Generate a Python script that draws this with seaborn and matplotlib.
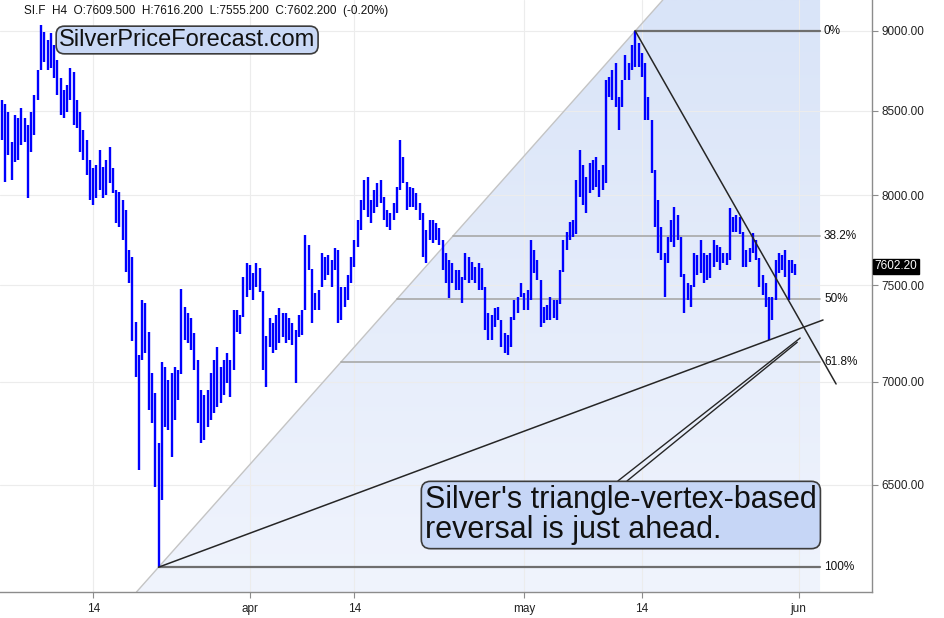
import numpy as np
import pandas as pd
import matplotlib
matplotlib.use("Agg")
import matplotlib.pyplot as plt
import matplotlib.transforms as mtransforms
import seaborn as sns
from matplotlib.patches import Polygon
from matplotlib.colors import LinearSegmentedColormap
from matplotlib.ticker import FixedLocator, NullLocator, FixedFormatter

sns.set_theme(style="white")
plt.rcParams['font.family'] = ['Liberation Sans', 'DejaVu Sans']

# ---- data: SI.F, 4 bars per trading day from 2020-03-05 ----
start_day = '2020-03-05'
holidays = ['2020-04-10']
bars_per_day = 4

high = [8566, 8541, 8493, 8312, 8475, 8457, 8517, 8457, 8414, 8493,
        8597, 8752, 9037, 8994, 8942, 8987, 8910, 8815, 8702, 8628,
        8659, 8765, 8740, 8566, 8493, 8384, 8324, 8206, 8159, 8176,
        8265, 8165, 8206, 8283, 8159, 8031, 8020, 7974, 7917, 7693,
        7654, 7306, 7134, 7422, 7406, 7254, 7043, 6943, 6699, 7099,
        7073, 7008, 7043, 7073, 7058, 7481, 7385, 7353, 7327, 7248,
        7109, 6958, 6933, 6958, 7043, 7109, 7175, 7073, 7109, 7145,
        7109, 7369, 7369, 7343, 7545, 7621, 7610, 7567, 7621, 7594,
        7470, 7233, 7327, 7301, 7343, 7380, 7353, 7353, 7327, 7301,
        7264, 7343, 7369, 7776, 7720, 7590, 7459, 7475, 7676, 7654,
        7665, 7638, 7704, 7693, 7491, 7491, 7556, 7654, 7748, 7860,
        7974, 8089, 8107, 7974, 8031, 8072, 8089, 7991, 7917, 7900,
        7957, 8049, 8324, 8224, 8077, 8049, 8043, 8014, 7957, 7900,
        7804, 7860, 7860, 7843, 7815, 7748, 7676, 7638, 7621, 7583,
        7583, 7545, 7676, 7654, 7627, 7599, 7621, 7594, 7491, 7353,
        7343, 7380, 7385, 7316, 7248, 7238, 7332, 7422, 7437, 7513,
        7459, 7475, 7748, 7693, 7638, 7529, 7385, 7395, 7437, 7422,
        7422, 7583, 7748, 7793, 7849, 7860, 8089, 8265, 8176, 8107,
        8188, 8206, 8224, 8147, 8176, 8690, 8709, 8752, 8796, 8585,
        8690, 8847, 8796, 8910, 9000, 8923, 8860, 8796, 8585, 8444,
        8147, 7974, 7821, 7676, 7765, 7860, 7934, 7889, 7765, 7560,
        7513, 7502, 7676, 7665, 7748, 7676, 7665, 7676, 7748, 7720,
        7709, 7676, 7676, 7929, 7877, 7889, 7877, 7790, 7693, 7704,
        7787, 7748, 7650, 7556, 7513, 7437, 7437, 7638, 7676, 7665,
        7693, 7638, 7638, 7616.2]

low = [8324, 8077, 8236, 8089, 8195, 8206, 8294, 8312, 7985, 8253,
       8354, 8566, 8752, 8802, 8752, 8765, 8702, 8597, 8475, 8457,
       8493, 8566, 8414, 8396, 8253, 8206, 8118, 7974, 7946, 7985,
       8031, 7985, 8002, 8072, 8014, 7843, 7821, 7748, 7572, 7513,
       7206, 7024, 6570, 7109, 7145, 6859, 6795, 6490, 6128, 6430,
       6776, 6761, 6632, 6810, 6908, 7040, 7212, 7196, 7160, 7058,
       6795, 6699, 6713, 6776, 6810, 6845, 6874, 6894, 6933, 6993,
       6923, 7058, 7254, 7244, 7332, 7437, 7475, 7422, 7491, 7465,
       7058, 6973, 7175, 7145, 7160, 7196, 7228, 7196, 7212, 7186,
       6993, 7228, 7238, 7369, 7583, 7301, 7369, 7369, 7491, 7529,
       7556, 7491, 7583, 7301, 7316, 7385, 7422, 7513, 7599, 7709,
       7804, 7917, 7877, 7843, 7900, 7934, 7957, 7860, 7821, 7804,
       7860, 7900, 8031, 8072, 7917, 7934, 7934, 7917, 7860, 7654,
       7621, 7748, 7731, 7748, 7720, 7583, 7513, 7433, 7513, 7475,
       7475, 7406, 7529, 7513, 7529, 7513, 7475, 7475, 7264, 7212,
       7212, 7280, 7316, 7175, 7145, 7134, 7175, 7316, 7353, 7437,
       7369, 7369, 7422, 7567, 7529, 7280, 7301, 7316, 7316, 7327,
       7316, 7400, 7570, 7693, 7748, 7765, 7780, 7991, 7946, 7900,
       8014, 8031, 8049, 7991, 8031, 8072, 8585, 8566, 8523, 8384,
       8523, 8690, 8690, 8752, 8771, 8771, 8709, 8444, 8444, 8130,
       7821, 7676, 7638, 7437, 7621, 7737, 7709, 7748, 7545, 7353,
       7422, 7385, 7491, 7556, 7567, 7513, 7529, 7540, 7599, 7627,
       7583, 7621, 7610, 7640, 7793, 7793, 7782, 7599, 7599, 7627,
       7676, 7638, 7491, 7448, 7385, 7212, 7316, 7420, 7567, 7583,
       7545, 7422, 7567, 7555.2]

last_open, last_high, last_low, last_close, last_change = 7609.5, 7616.2, 7555.2, 7602.2, -0.20

tick_dates = ['2020-03-14', '2020-04-01', '2020-04-14', '2020-05-01', '2020-05-14', '2020-06-01']
tick_labels = ['14', 'apr', '14', 'may', '14', 'jun']
price_ticks = [6500, 7000, 7500, 8000, 8500, 9000]

fib_levels = [0.0, 0.382, 0.5, 0.618, 1.0]
fib_labels = ['0%', '38.2%', '50%', '61.8%', '100%']

# hand-drawn trend lines (bar index, price)
down_line_x = [194, 255.5]
down_line_y = [9000, 6988]
up_line_x = [48, 251.5]
up_line_y = [6128, 7316]
callout_x = [[188.7, 244.5], [191.5, 243.6]]
callout_y = [[6519, 7222], [6519, 7200]]

# ---- frame ----
df = pd.DataFrame({'x': np.arange(len(high)), 'high': high, 'low': low})
days = pd.bdate_range(start_day, periods=80, freq='C', holidays=holidays)
tick_x = [days.searchsorted(pd.Timestamp(d)) * bars_per_day for d in tick_dates]

x_min, x_max = -0.55, 266.5
y_min, y_max = 6020, 9202
fib_right = 250.6

fig = plt.figure(figsize=(9.45, 6.18), dpi=100)
ax = fig.add_axes([0, 26 / 618, 872 / 945, 592 / 618])
ax.set_yscale('log')
ax.set_xlim(x_min, x_max)
ax.set_ylim(y_min, y_max)

# fib anchors: overall low and the highest high after it
i_low = int(df['low'].idxmin())
i_high = int(df['high'].iloc[i_low:].idxmax())
p_low, p_high = df['low'][i_low], df['high'][i_high]
ln_lo, ln_hi = np.log(p_low), np.log(p_high)

def diag_x(price):
    return i_low + (np.log(price) - ln_lo) / (ln_hi - ln_lo) * (i_high - i_low)

# shaded fib zone with vertical gradient, clipped right of the diagonal
poly = Polygon([(diag_x(y_min), y_min), (diag_x(y_max), y_max),
                (fib_right, y_max), (fib_right, y_min)],
               closed=True, fill=False, edgecolor='none')
ax.add_patch(poly)
cmap = LinearSegmentedColormap.from_list('fz', ['#d9e4f8', '#f0f4fd'])
grad = np.linspace(0, 1, 256).reshape(-1, 1)
im = ax.imshow(grad, extent=[0, 1, 0, 1], transform=ax.transAxes, cmap=cmap,
               aspect='auto', origin='upper', zorder=0, interpolation='bilinear')
im.set_clip_path(poly)
ax.set_xlim(x_min, x_max)
ax.set_ylim(y_min, y_max)

# diagonal of the fib tool, extended over the whole height
ax.plot([diag_x(y_min), diag_x(y_max)], [y_min, y_max], color='#c4c4c4', lw=1.0, zorder=1.5)

for lvl, lab in zip(fib_levels, fib_labels):
    price = np.exp(ln_hi - lvl * (ln_hi - ln_lo))
    main = lvl in (0.0, 1.0)
    ax.plot([diag_x(price), fib_right], [price, price],
            color='#6e6e6e' if main else '#a8a8a8', lw=1.6 if main else 1.2, zorder=1.6)
    ax.text(fib_right + 1.2, price, lab, fontsize=8.5, color='#111111', ha='left', va='center')

# price bars
ax.vlines(df['x'], df['low'], df['high'], color='#0000ff', lw=1.7, zorder=3)

# trend lines
ax.plot(down_line_x, down_line_y, color='#262626', lw=1.1, zorder=4)
ax.plot(up_line_x, up_line_y, color='#262626', lw=1.1, zorder=4)
for cx, cy in zip(callout_x, callout_y):
    ax.plot(cx, cy, color='#262626', lw=1.0, zorder=4)

# axes styling
ax.set_axisbelow(True)
ax.grid(True, color='#ececec', lw=0.8)
for s in ['left', 'top']:
    ax.spines[s].set_visible(False)
for s in ['right', 'bottom']:
    ax.spines[s].set_color('#8c8c8c')
    ax.spines[s].set_linewidth(1.0)

ax.yaxis.tick_right()
ax.yaxis.set_major_locator(FixedLocator(price_ticks))
ax.yaxis.set_minor_locator(NullLocator())
ax.yaxis.set_major_formatter(FixedFormatter([f'{p:.2f}' for p in price_ticks]))
ax.xaxis.set_major_locator(FixedLocator(tick_x))
ax.xaxis.set_major_formatter(FixedFormatter(tick_labels))
ax.tick_params(axis='both', which='major', labelsize=8.5, labelcolor='#222222',
               length=4, width=0.8, color='#8c8c8c', pad=3)
ax.tick_params(axis='y', right=True, left=False, pad=3)
ax.tick_params(axis='x', bottom=True, pad=4)

# last price tag on the axis
trans = mtransforms.blended_transform_factory(ax.transAxes, ax.transData)
ax.text(1.003, last_close, f'{last_close:.2f}', transform=trans, fontsize=8.5,
        color='white', ha='left', va='center',
        bbox=dict(boxstyle='square,pad=0.15', fc='black', ec='black'))

# header line
fig.text(24 / 945, 1 - 11 / 618,
         f'SI.F  H4  O:{last_open:.3f}  H:{last_high:.3f}  L:{last_low:.3f}  '
         f'C:{last_close:.3f}  ({last_change:.2f}%)',
         fontsize=8.5, color='#111111', ha='left', va='center')

# watermark
fig.text(59 / 945, 1 - 40 / 618, 'SilverPriceForecast.com', fontsize=17, color='#111111',
         ha='left', va='center',
         bbox=dict(boxstyle='round,pad=0.12,rounding_size=0.35', fc='#cad9f6', ec='#3c3c3c', lw=1.2))

# comment box
fig.text(425 / 945, 1 - 515 / 618, "Silver's triangle-vertex-based\nreversal is just ahead.",
         fontsize=22, color='#111111', ha='left', va='center', linespacing=1.0,
         bbox=dict(boxstyle='round,pad=0.12,rounding_size=0.3', fc='#c6d6f6', ec='#3c3c3c', lw=1.2))

fig.savefig('out.png', dpi=100)
